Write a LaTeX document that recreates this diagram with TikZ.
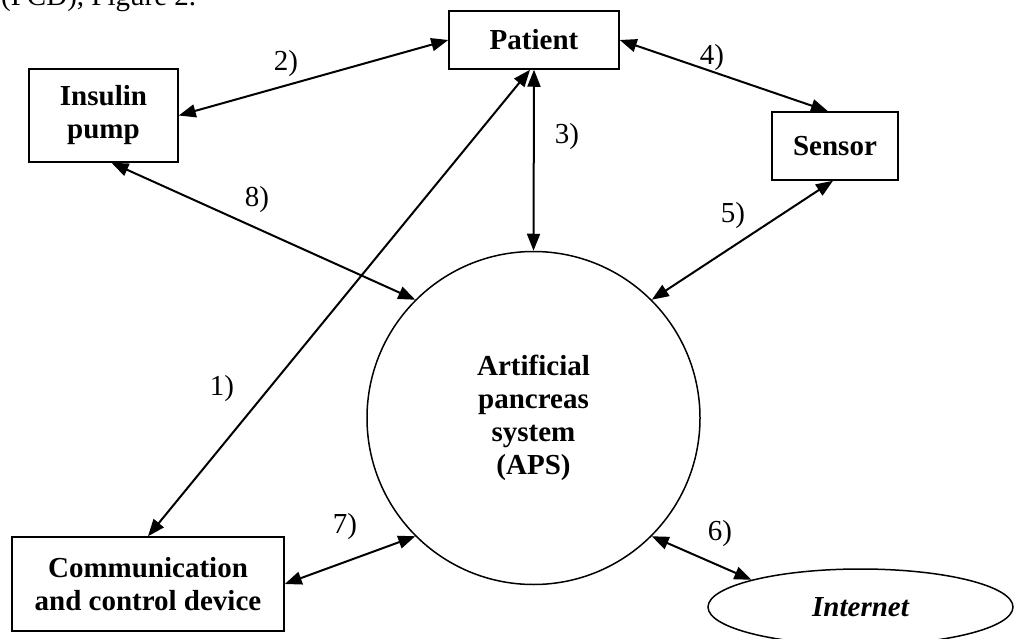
\documentclass[tikz,border=0pt]{standalone}
\usepackage{fontspec}
\setmainfont{Liberation Serif}
\usetikzlibrary{arrows.meta,shapes.geometric}
\begin{document}
\begin{tikzpicture}[x=1pt,y=-1pt,
  box/.style={draw,line width=1.5pt,font=\fontsize{29}{33}\selectfont\bfseries,align=center,inner sep=0pt},
  con/.style={line width=2pt,{Triangle[length=17pt,width=13pt]}-{Triangle[length=17pt,width=13pt]}},
  lbl/.style={font=\fontsize{29}{33}\selectfont,inner sep=0pt}]
\useasboundingbox (0,0) rectangle (1014,639);
\clip (0,0) rectangle (1014,639);
\node[lbl,anchor=base west] (top) at (1,6) {(PCD), Figure 2.};
\node[box,minimum width=170pt,minimum height=58pt] (patient) at (534,40) {Patient};
\node[box,minimum width=149pt,minimum height=93pt] (insulin) at (103.5,115.5) {Insulin\\pump};
\node[box,minimum width=126pt,minimum height=68pt] (sensor) at (835,146) {Sensor};
\node[box,minimum width=272pt,minimum height=94pt] (comm) at (148,584) {Communication\\and control device};
\node[box,circle,minimum size=333pt] (aps) at (533.5,418) {Artificial\\pancreas\\system\\(APS)};
\node[box,ellipse,minimum width=305pt,minimum height=76pt,font=\fontsize{29}{33}\selectfont\bfseries\itshape] (internet) at (860.5,607) {Internet};
\draw[con] (insulin.east) -- (patient.west);
\draw[con] (patient.east) -- ([xshift=-7pt]sensor.north);
\draw[con] (patient.south) -- (aps.north);
\draw[con] ([xshift=-4pt]patient.south) -- (comm.north);
\draw[con] ([xshift=8pt]insulin.south) -- (aps.135);
\draw[con] ([xshift=-2pt]sensor.south) -- (aps.45);
\draw[con] (comm.east) -- (aps.225);
\draw[con] (aps.315) -- (internet.166);
\node[lbl] (l2) at (286,64) {2)};
\node[lbl] (l4) at (712,58) {4)};
\node[lbl] (l3) at (567,137) {3)};
\node[lbl] (l8) at (257,200) {8)};
\node[lbl] (l5) at (733,216) {5)};
\node[lbl] (l1) at (222,389) {1)};
\node[lbl] (l7) at (345,527) {7)};
\node[lbl] (l6) at (720,534) {6)};
\end{tikzpicture}
\end{document}
